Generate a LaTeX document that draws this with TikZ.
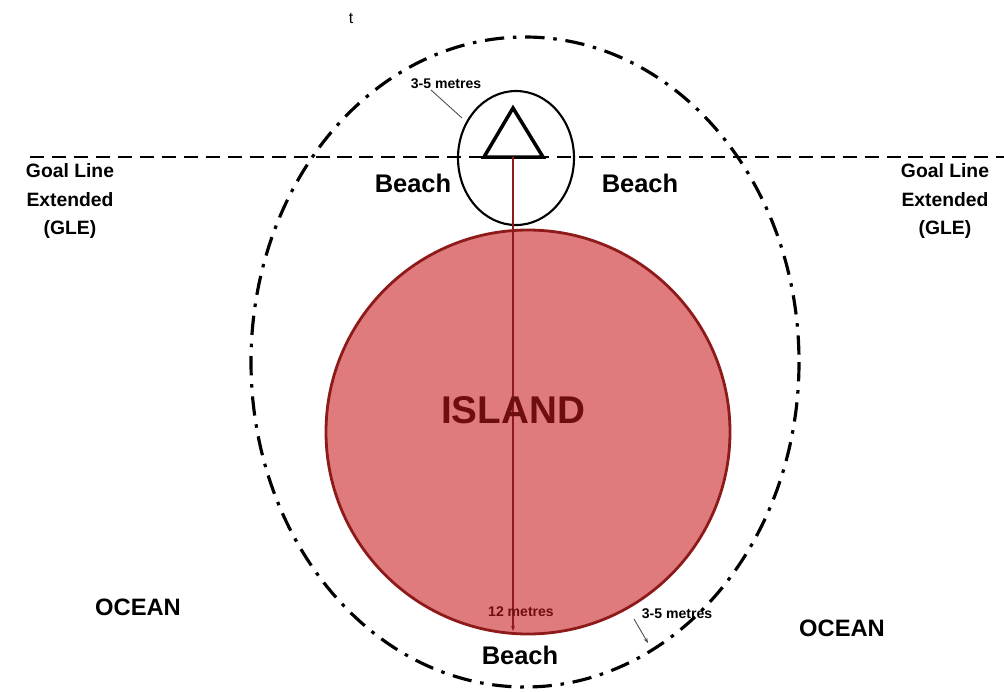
\documentclass[tikz,border=0pt]{standalone}
\usepackage{fontspec}
\setsansfont{Liberation Sans}
\usetikzlibrary{arrows.meta,positioning}
\definecolor{islandfill}{HTML}{E07B7D}
\definecolor{islandedge}{HTML}{8E1A1A}
\definecolor{islandtext}{HTML}{6E0E0E}
\begin{document}
\begin{tikzpicture}[
  x=0.02cm, y=-0.02cm, font=\sffamily\bfseries, >={Stealth[length=4pt]},
  lbl/.style={inner sep=1pt, align=center},
  gle/.style={lbl, font=\sffamily\bfseries\fontsize{11}{16}\selectfont},
  beach/.style={lbl, font=\sffamily\bfseries\fontsize{14.5}{16}\selectfont},
  ocean/.style={lbl, font=\sffamily\bfseries\fontsize{13.5}{16}\selectfont},
  small/.style={lbl, font=\sffamily\bfseries\fontsize{8}{9}\selectfont},
  zone/.style={line width=1.8pt, dash pattern=on 11pt off 5pt on 2pt off 5pt},
  leader/.style={draw=black!70, line width=0.5pt}]
\useasboundingbox (0,0) rectangle (1004,691);
% outer zone and goal line
\draw[zone] (525,362) ellipse [x radius=274, y radius=325];
\draw[line width=1.3pt, dash pattern=on 8pt off 4.5pt] (30,157) -- (1004,157);
% island
\draw[islandedge, line width=1.6pt, fill=islandfill] (528,432) circle [radius=202];
% goal area
\draw[line width=1.2pt] (516,158) ellipse [x radius=58, y radius=67];
\coordinate (apex) at (513,108);
\coordinate (tribase) at (513,157);
\draw[line width=2pt, line join=miter] (apex) -- (484,157) -- (543,157) -- cycle;
\coordinate (islbot) at (513,631);
\draw[islandedge, line width=0.6pt, -{Stealth[length=3pt]}] (tribase) -- (islbot);
% labels
\node[lbl, font=\sffamily\fontsize{9}{10}\selectfont] (tmark) at (351,18) {t};
\node[small] (toplbl) at (446,84) {3-5 metres};
\coordinate (topstart) at (431,90);
\coordinate (topend) at (462,118);
\draw[leader] (topstart) -- (topend);
\node[beach] (beachl) at (413,183) {Beach};
\node[beach] (beachr) at (640,183) {Beach};
\node[beach] (beachb) at (520,655) {Beach};
\node[gle] (glel) at (70,201) {Goal Line\\Extended\\(GLE)};
\node[gle] (gler) at (945,201) {Goal Line\\Extended\\(GLE)};
\node[lbl, text=islandtext, font=\sffamily\bfseries\fontsize{22}{24}\selectfont] (island) at (513,410) {ISLAND};
\node[small, text=islandtext] (twelve) at (521,612) {12 metres};
\node[small] (botlbl) at (677,614) {3-5 metres};
\coordinate (botstart) at (634,619);
\coordinate (botend) at (648,643);
\draw[leader, ->, >={Stealth[length=3pt]}] (botstart) -- (botend);
\node[ocean] (oceanl) at (138,607) {OCEAN};
\node[ocean] (oceanr) at (842,628) {OCEAN};
\end{tikzpicture}
\end{document}
